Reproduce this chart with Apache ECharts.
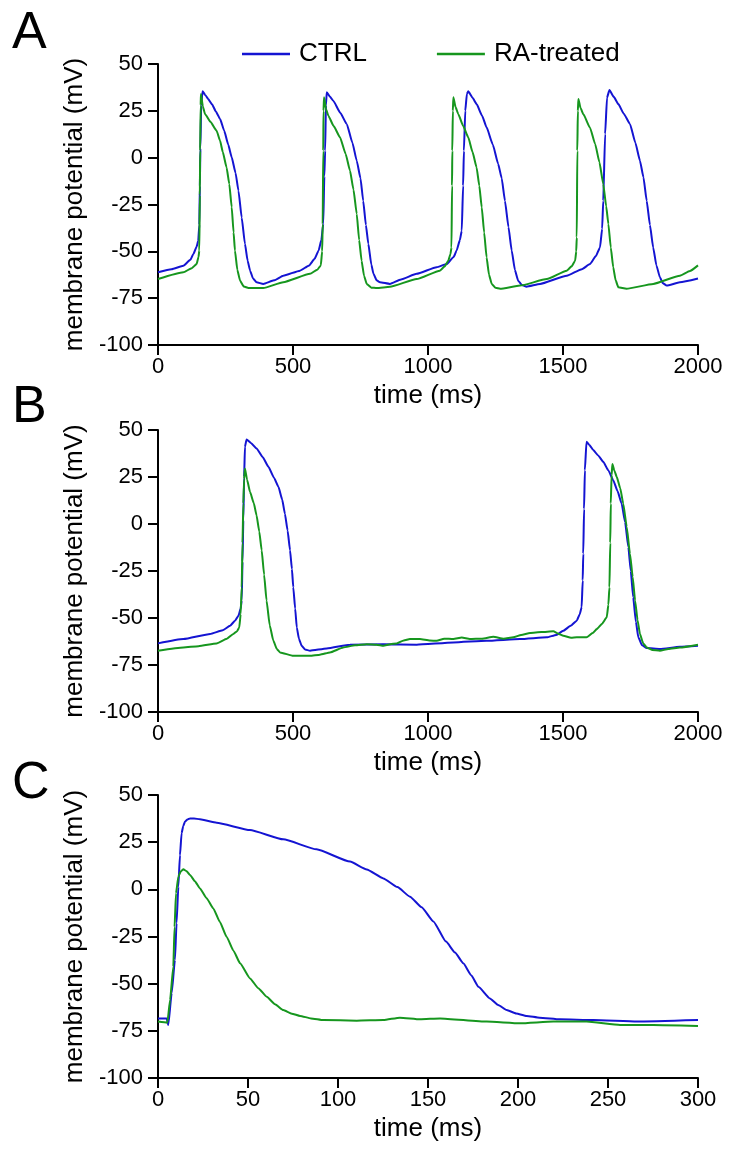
<!DOCTYPE html>
<html>
<head>
<meta charset="utf-8">
<script src="https://cdn.jsdelivr.net/npm/echarts@6/dist/echarts.min.js"></script>
<style>
html,body{margin:0;padding:0;background:#fff;}
#chart{width:730px;height:1159px;}
</style>
</head>
<body>
<div id="chart"></div>
<script>
// ---- data (time in ms, membrane potential in mV) ----
var seriesNames = ['CTRL', 'RA-treated'];
var yTicks = [-100, -75, -50, -25, 0, 25, 50];
var xTicksAB = [0, 500, 1000, 1500, 2000];
var xTicksC = [0, 50, 100, 150, 200, 250, 300];

var ctrlA = [[0,-61.2],[50,-59.5],[94,-57.7],[120,-54.5],[131,-51.4],[143,-47.5],[149,-44.3],[153,-36],[155,-15],[157,5],[160,28],[165,35.4],[175,33.5],[186,31.3],[200,28.5],[215,24.5],[230,20.6],[245,14.5],[260,7],[273,0.2],[287,-8],[298,-17.6],[310,-32],[322,-46],[332,-55],[341,-60.3],[352,-64.5],[365,-66.5],[390,-67.4],[430,-65.5],[464,-63],[526,-60.3],[560,-57.5],[580,-54],[595,-49.5],[605,-44],[612,-35.4],[616,-10],[619,3.7],[622,28],[625,34.9],[637,32.5],[649,30.4],[675,24],[699,18],[720,8],[736,-1.6],[750,-11],[760,-23],[770,-36],[779,-46],[790,-57],[798,-62],[810,-65.5],[822,-66.5],[859,-67.4],[900,-65],[958,-62],[1032,-58.5],[1069,-56.8],[1095,-53],[1106,-49.6],[1118,-44],[1125,-39],[1130,-15],[1133,3.7],[1138,25],[1144,34],[1149,35.4],[1165,32],[1180,28.6],[1200,22.5],[1217,16.2],[1240,7],[1260,-3.4],[1273,-11],[1285,-23],[1298,-37],[1310,-49.6],[1322,-60],[1334,-65.7],[1348,-68],[1365,-68.9],[1415,-67.4],[1514,-63],[1570,-59.5],[1600,-56.8],[1622,-52.5],[1637,-47.9],[1645,-38],[1649,-23],[1656,12.6],[1663,32],[1672,36.1],[1688,32.5],[1705,28.6],[1725,23.5],[1748,18],[1768,8],[1785,-1.6],[1798,-10.5],[1810,-23],[1822,-36],[1834,-47.9],[1846,-57.5],[1859,-63.9],[1870,-67],[1884,-68.3],[1933,-66.5],[2000,-64.5]];

var raA = [[0,-64.8],[94,-61.2],[125,-59],[143,-56.8],[150,-53],[153,-49.6],[155,-20],[156,3.7],[158,28],[159,34],[166,27.5],[174,23.3],[195,19],[217,14.4],[230,9],[240,3],[254,-5.2],[264,-14],[273,-26.5],[280,-40],[285,-49.6],[294,-60],[304,-65.7],[318,-68.8],[335,-69.6],[390,-69.6],[464,-66.5],[563,-62],[590,-59.8],[603,-57.5],[608,-50],[610,-35.4],[612,3.7],[613,25],[615,32.2],[622,26],[631,22.4],[650,17],[674,10.9],[695,2],[711,-6.9],[724,-17],[736,-30],[745,-44],[754,-55],[763,-63],[773,-67.4],[790,-69.4],[810,-69.6],[859,-68.9],[958,-64.8],[1044,-60.3],[1062,-58],[1075,-55],[1083,-51.5],[1087,-47.9],[1089,-15],[1090,3.7],[1092,25],[1094,32.2],[1102,27],[1112,23.3],[1130,17],[1149,10.9],[1165,3],[1180,-5.2],[1190,-15],[1199,-26.5],[1208,-40],[1217,-53.2],[1226,-62.5],[1236,-67.4],[1250,-69.5],[1267,-70],[1341,-68.3],[1440,-64.8],[1514,-60.3],[1532,-58],[1545,-55],[1549,-50],[1551,-42.5],[1553,3.7],[1555,25],[1557,31.3],[1565,26.5],[1575,23.3],[1600,16],[1619,7.3],[1635,-2.5],[1649,-14],[1660,-26],[1668,-35.4],[1677,-48],[1686,-58.5],[1695,-65.5],[1705,-69.2],[1735,-70],[1834,-67.4],[1933,-63],[1970,-60.5],[2000,-57.5]];

var ctrlB = [[0,-63.5],[94,-61.2],[193,-58.5],[240,-56.5],[267,-54.1],[285,-51.5],[298,-48.8],[306,-45],[310,-40.7],[313,-20],[316,2],[319,25],[322,41],[328,45],[345,43],[365,40.2],[388,35.5],[409,30.4],[430,24.5],[446,19.8],[460,13],[470,5.5],[480,-3.5],[489,-14],[496,-24],[501,-33.6],[508,-45],[514,-55],[522,-61],[532,-64.8],[545,-66.8],[563,-67.4],[625,-66.2],[711,-64.2],[835,-63.9],[958,-64.2],[1094,-63],[1217,-62.1],[1341,-61.2],[1440,-60.3],[1475,-59],[1501,-56.8],[1530,-54],[1551,-51.4],[1562,-48],[1569,-44.3],[1573,-30],[1575,-15.8],[1578,8],[1581,28.6],[1587,43.8],[1598,42],[1612,39.3],[1630,36.5],[1649,33.1],[1668,28.5],[1686,23.3],[1702,17.5],[1717,10.9],[1730,1],[1742,-12.3],[1751,-25],[1760,-39],[1770,-52],[1779,-60.3],[1793,-64.5],[1810,-66],[1859,-66.5],[1933,-65.3],[2000,-64.8]];

var raB = [[0,-67.4],[94,-65.7],[150,-65],[217,-63.5],[255,-61],[279,-58.5],[293,-57],[301,-55],[306,-48],[310,-33.6],[313,-10],[316,10.9],[319,24],[322,29.5],[330,23.5],[341,17],[355,11],[365,4.6],[375,-4],[384,-14],[393,-27],[402,-40.7],[414,-54],[427,-62],[440,-66.5],[452,-68.3],[501,-70.1],[563,-70.1],[600,-69.5],[637,-68.3],[686,-65.7],[730,-64.5],[773,-63.9],[810,-64.2],[835,-64.8],[860,-64],[884,-63.5],[910,-62],[933,-61.2],[970,-61.2],[1007,-62],[1032,-62.1],[1060,-61],[1094,-61.2],[1125,-60.4],[1155,-61.2],[1200,-61],[1242,-60],[1280,-61],[1316,-60.3],[1345,-59],[1378,-58],[1420,-57.5],[1464,-57.1],[1485,-58.5],[1501,-59.4],[1530,-60.5],[1551,-60.3],[1587,-60.3],[1610,-58],[1625,-55.9],[1645,-53],[1662,-49.6],[1668,-43],[1672,-33.6],[1675,-10],[1677,10.9],[1680,26],[1683,31.9],[1690,28.5],[1699,25.1],[1712,19],[1723,10.9],[1736,-1.5],[1748,-15.8],[1758,-28],[1767,-40.7],[1776,-51],[1785,-58.5],[1797,-63.5],[1810,-65.7],[1830,-67],[1859,-67.4],[1890,-66.5],[1933,-65.7],[2000,-64.2]];

var ctrlC = [[0,-68.4],[4.8,-68.4],[5.7,-71.9],[7.6,-55],[9.4,-37.5],[10.3,-18],[11.3,1.4],[12.2,18],[13.1,29.7],[14,33.5],[15,35.9],[16.4,37],[17.8,37.6],[20,37.6],[23.3,37.1],[32.6,35.3],[51.1,31.4],[69.6,26.5],[88.1,21.2],[106.7,14.7],[116,10.5],[125.2,5.8],[133,1.2],[140,-3.9],[146.5,-9.5],[153,-17],[160,-27.7],[165,-33.5],[169.6,-39.2],[174,-45.5],[178,-51.6],[184.4,-57.8],[189,-61.3],[193.7,-64],[199,-65.8],[204.8,-67.1],[212,-68],[223.3,-68.9],[241.9,-69.3],[266,-70.1],[300,-69.3]];

var raC = [[0,-70.1],[5.2,-70.7],[6.7,-58.7],[8.5,-41],[9.2,-20],[10,-2.1],[11.3,6.7],[12.7,9.6],[14.1,10.6],[15.9,9.6],[17.8,7.6],[20.5,4.3],[23.3,0.5],[27,-4.7],[30.7,-10.1],[34.4,-17.3],[38.1,-25.1],[41.9,-32.5],[45.6,-39.2],[51.1,-47.2],[55.7,-52.4],[60.4,-56.9],[65,-60.9],[69.6,-64],[74.3,-65.9],[78.9,-67.1],[85,-68.4],[91.9,-69.3],[110.4,-69.6],[125.2,-69.3],[134.4,-68],[145.6,-68.9],[156.7,-68.4],[182.6,-70.1],[201.1,-71],[219.6,-70.1],[238.1,-70.1],[256.7,-71.9],[275.2,-71.9],[300,-72.4]];

var colors = ['#1414d2', '#16961e'];

// ---- chart ----
var FONT = 'Liberation Sans, Arial, sans-serif';
var chart = echarts.init(document.getElementById('chart'), null, {renderer: 'canvas'});

var grids = [
  {left: 158, width: 540, top: 64, height: 281},
  {left: 158, width: 540, top: 430, height: 282},
  {left: 158, width: 540, top: 795, height: 283}
];

function xAx(i, ticks) {
  return {
    type: 'value', gridIndex: i,
    min: ticks[0], max: ticks[ticks.length - 1], interval: ticks[1] - ticks[0],
    name: 'time (ms)', nameLocation: 'middle', nameGap: 38,
    nameTextStyle: {fontSize: 26, color: '#000', fontFamily: FONT},
    axisLine: {onZero: false, lineStyle: {color: '#000', width: 2}},
    axisTick: {show: true, inside: false, length: 10, lineStyle: {color: '#000', width: 2}},
    axisLabel: {fontSize: 22, color: '#000', margin: 11, fontFamily: FONT,
      formatter: function (v) { return String(v); }},
    splitLine: {show: false}
  };
}
function yAx(i) {
  return {
    type: 'value', gridIndex: i,
    min: yTicks[0], max: yTicks[yTicks.length - 1], interval: yTicks[1] - yTicks[0],
    name: 'membrane potential (mV)', nameLocation: 'middle', nameGap: 62,
    nameTextStyle: {fontSize: 26, color: '#000', fontFamily: FONT},
    axisLine: {onZero: false, lineStyle: {color: '#000', width: 2}},
    axisTick: {show: true, inside: false, length: 10, lineStyle: {color: '#000', width: 2}},
    axisLabel: {fontSize: 22, color: '#000', margin: 15, fontFamily: FONT,
      formatter: function (v) { return String(v); }},
    splitLine: {show: false}
  };
}
function ser(name, data, i, c) {
  return {
    name: name, type: 'line', data: data, xAxisIndex: i, yAxisIndex: i,
    symbol: 'none', showSymbol: false, smooth: 0.15, smoothMonotone: 'x', animation: false,
    lineStyle: {color: c, width: 2}, itemStyle: {color: c}
  };
}

var option = {
  animation: false,
  backgroundColor: '#fff',
  grid: grids,
  xAxis: [xAx(0, xTicksAB), xAx(1, xTicksAB), xAx(2, xTicksC)],
  yAxis: [yAx(0), yAx(1), yAx(2)],
  legend: {
    data: seriesNames, left: 237, top: 36, icon: 'rect', itemWidth: 48, itemHeight: 2.5, itemGap: 70,
    textStyle: {fontSize: 26, color: '#000', fontFamily: FONT, padding: [0, 0, 0, 4]}
  },
  series: [
    ser(seriesNames[0], ctrlA, 0, colors[0]),
    ser(seriesNames[1], raA, 0, colors[1]),
    ser(seriesNames[0], ctrlB, 1, colors[0]),
    ser(seriesNames[1], raB, 1, colors[1]),
    ser(seriesNames[0], ctrlC, 2, colors[0]),
    ser(seriesNames[1], raC, 2, colors[1])
  ],
  graphic: [
    {type: 'text', left: 12, top: 8, style: {text: 'A', fontSize: 52, fill: '#000', fontFamily: FONT}},
    {type: 'text', left: 12, top: 382, style: {text: 'B', fontSize: 52, fill: '#000', fontFamily: FONT}},
    {type: 'text', left: 12, top: 758, style: {text: 'C', fontSize: 52, fill: '#000', fontFamily: FONT}}
  ]
};
chart.setOption(option);
</script>
</body>
</html>
